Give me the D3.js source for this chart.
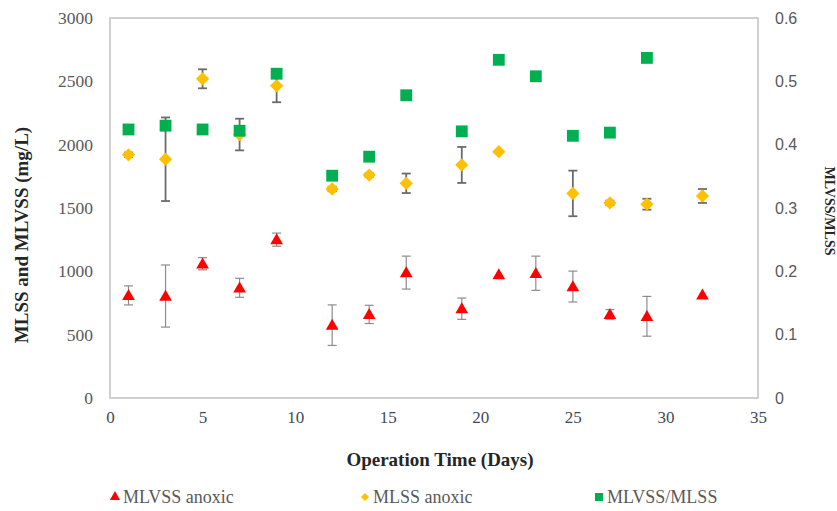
<!DOCTYPE html>
<html>
<head>
<meta charset="utf-8">
<script src="https://cdn.jsdelivr.net/npm/d3@7"></script>
<style>
  body { margin: 0; background: #fff; }
</style>
</head>
<body>
<div class="container"></div>
<script>
let days = [1, 3, 5, 7, 9, 12, 14, 16, 19, 21, 23, 25, 27, 29, 32];
let mlvss = [810, 805, 1060, 870, 1250, 575, 660, 990, 705, 975, 985, 880, 660, 645, 815];
let mlvssErr = [75, 245, 48, 75, 52, 160, 72, 130, 84, 0, 135, 122, 38, 157, 0];
let mlss = [1920, 1885, 2520, 2080, 2465, 1650, 1760, 1695, 1840, 1945, null, 1615, 1540, 1530, 1595];
let mlssErr = [18, 330, 75, 125, 130, 18, 15, 77, 142, 0, 0, 180, 18, 43, 55];
let ratio = [0.424, 0.43, 0.424, 0.422, 0.512, 0.351, 0.381, 0.478, 0.421, 0.534, 0.508, 0.414, 0.419, 0.537, null];

let xTicks = [0, 5, 10, 15, 20, 25, 30, 35];
let yTicks = [0, 500, 1000, 1500, 2000, 2500, 3000];
let y2Ticks = [0, 0.1, 0.2, 0.3, 0.4, 0.5, 0.6];

let serif = "'Liberation Serif', 'Times New Roman', serif";

let margin = { top: 18, right: 79, bottom: 113, left: 110 };
let width = 837 - margin.left - margin.right;
let height = 511 - margin.top - margin.bottom;

let svg = d3
  .select('.container')
  .append('svg')
  .attr('width', 837)
  .attr('height', 511);

let g = svg
  .append('g')
  .attr('transform', 'translate(' + margin.left + ',' + margin.top + ')');

let xScale = d3.scaleLinear().domain([0, 35]).range([0, width]);
let yScale = d3.scaleLinear().domain([0, 3000]).range([height, 0]);
let y2Scale = d3.scaleLinear().domain([0, 0.6]).range([height, 0]);

// plot frame
g.append('rect')
  .attr('x', 0)
  .attr('y', 0)
  .attr('width', width)
  .attr('height', height)
  .attr('fill', 'none')
  .attr('stroke', '#d0d0d0')
  .attr('stroke-width', 2);

// axes (labels only)
let xAxis = g
  .append('g')
  .attr('transform', 'translate(0,' + height + ')')
  .call(d3.axisBottom(xScale).tickValues(xTicks).tickSize(0).tickPadding(13));
xAxis.select('.domain').remove();
xAxis
  .attr('font-family', serif)
  .attr('font-size', 17)
  .selectAll('text')
  .attr('fill', '#404b58');

let yAxis = g
  .append('g')
  .call(d3.axisLeft(yScale).tickValues(yTicks).tickSize(0).tickPadding(17).tickFormat(d3.format('d')));
yAxis.select('.domain').remove();
yAxis
  .attr('font-family', serif)
  .attr('font-size', 17.5)
  .selectAll('text')
  .attr('fill', '#595959');

let y2Axis = g
  .append('g')
  .attr('transform', 'translate(' + width + ',0)')
  .call(d3.axisRight(y2Scale).tickValues(y2Ticks).tickSize(0).tickPadding(17).tickFormat(d3.format('')));
y2Axis.select('.domain').remove();
y2Axis
  .attr('font-family', "'Liberation Sans', Arial, sans-serif")
  .attr('font-size', 16)
  .selectAll('text')
  .attr('fill', '#595959');

// axis titles
svg
  .append('text')
  .attr('transform', 'translate(28,235) rotate(-90)')
  .attr('text-anchor', 'middle')
  .attr('font-family', serif)
  .attr('font-size', 19)
  .attr('font-weight', 'bold')
  .attr('fill', '#262626')
  .text('MLSS and MLVSS (mg/L)');

svg
  .append('text')
  .attr('transform', 'translate(825,211) rotate(90)')
  .attr('text-anchor', 'middle')
  .attr('font-family', serif)
  .attr('font-size', 14)
  .attr('font-weight', 'bold')
  .attr('fill', '#262626')
  .text('MLVSS/MLSS');

svg
  .append('text')
  .attr('x', 440)
  .attr('y', 466)
  .attr('text-anchor', 'middle')
  .attr('font-family', serif)
  .attr('font-size', 19)
  .attr('font-weight', 'bold')
  .attr('fill', '#262626')
  .text('Operation Time (Days)');

let cap = 4.5;

function errorBars(vals, errs, color, sw) {
  let eg = g.append('g');
  days.forEach((d, i) => {
    if (vals[i] == null || !errs[i]) return;
    let x = xScale(d);
    let y0 = yScale(vals[i] - errs[i]);
    let y1 = yScale(vals[i] + errs[i]);
    eg.append('line').attr('x1', x).attr('x2', x).attr('y1', y0).attr('y2', y1)
      .attr('stroke', color).attr('stroke-width', sw);
    [y0, y1].forEach((yy) => {
      eg.append('line').attr('x1', x - cap).attr('x2', x + cap).attr('y1', yy).attr('y2', yy)
        .attr('stroke', color).attr('stroke-width', sw);
    });
  });
}

let triangle = d3.symbol().type(d3.symbolTriangle).size(70);
let diamond = d3.symbol().type(d3.symbolSquare).size(88);
let square = d3.symbol().type(d3.symbolSquare).size(140);

// MLVSS anoxic
errorBars(mlvss, mlvssErr, '#8c8c8c', 1.2);
g.append('g')
  .selectAll('path')
  .data(days)
  .enter()
  .append('path')
  .attr('d', triangle)
  .attr('transform', (d, i) => 'translate(' + xScale(d) + ',' + (yScale(mlvss[i]) + 1) + ')')
  .attr('fill', '#ff0000');

// MLSS anoxic
errorBars(mlss, mlssErr, '#6b6b6b', 1.8);
g.append('g')
  .selectAll('path')
  .data(days.filter((d, i) => mlss[i] != null))
  .enter()
  .append('path')
  .attr('d', diamond)
  .attr('transform', (d) => 'translate(' + xScale(d) + ',' + yScale(mlss[days.indexOf(d)]) + ') rotate(45)')
  .attr('fill', '#ffc000');

// MLVSS/MLSS
g.append('g')
  .selectAll('path')
  .data(days.filter((d, i) => ratio[i] != null))
  .enter()
  .append('path')
  .attr('d', square)
  .attr('transform', (d) => 'translate(' + xScale(d) + ',' + y2Scale(ratio[days.indexOf(d)]) + ')')
  .attr('fill', '#00b050');

// legend
let legendItems = [
  { label: 'MLVSS anoxic', sym: d3.symbol().type(d3.symbolTriangle).size(45), color: '#ff0000', x: 115, rot: 0 },
  { label: 'MLSS anoxic', sym: d3.symbol().type(d3.symbolSquare).size(32), color: '#ffc000', x: 365, rot: 45 },
  { label: 'MLVSS/MLSS', sym: d3.symbol().type(d3.symbolSquare).size(64), color: '#00b050', x: 599, rot: 0 }
];
let legend = svg.append('g');
legendItems.forEach((item) => {
  legend.append('path')
    .attr('d', item.sym)
    .attr('transform', 'translate(' + item.x + ',497) rotate(' + item.rot + ')')
    .attr('fill', item.color);
  legend.append('text')
    .attr('x', item.x + 8)
    .attr('y', 503)
    .attr('font-family', serif)
    .attr('font-size', 18)
    .attr('fill', '#595959')
    .text(item.label);
});
</script>
</body>
</html>
